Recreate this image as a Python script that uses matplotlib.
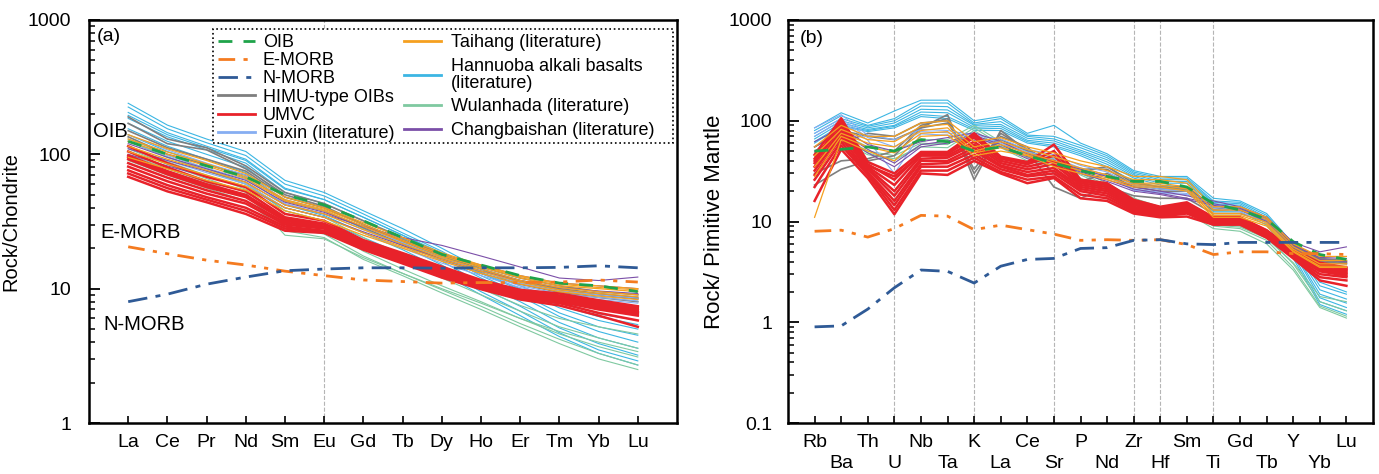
import matplotlib
matplotlib.use('Agg')
import matplotlib.pyplot as plt
from matplotlib.patches import Rectangle
from matplotlib.lines import Line2D
from matplotlib.ticker import LogLocator, NullFormatter, FuncFormatter

plt.rcParams['font.family'] = ['Liberation Sans', 'DejaVu Sans']

# ---------------- data: (a) chondrite-normalised REE ----------------
ree = ['La', 'Ce', 'Pr', 'Nd', 'Sm', 'Eu', 'Gd', 'Tb', 'Dy', 'Ho', 'Er', 'Tm', 'Yb', 'Lu']

oib_a = [125, 100, 82, 68, 50, 42, 32, 24, 18, 15, 12.5, 11, 10.5, 9.5]
emorb_a = [20.5, 18.2, 16.3, 15, 13.5, 12.5, 11.6, 11.3, 11, 11.1, 11.1, 11.2, 11.6, 11.2]
nmorb_a = [8, 9.1, 10.8, 12.2, 13.6, 14, 14.3, 14.3, 14.2, 14.3, 14.3, 14.4, 14.8, 14.3]

umvc_a = [
    [115, 86, 68, 57, 36, 32, 23, 18.4, 14.6, 11.6, 9.8, 9.2, 8.2, 7.4],
    [105, 80, 63, 53, 34, 30.5, 22.5, 17.8, 14.2, 11.4, 9.6, 8.9, 8.0, 7.3],
    [98, 75, 60, 50, 33, 30, 22, 17.4, 13.8, 11.1, 9.4, 8.7, 7.8, 7.1],
    [92, 71, 57, 48, 32, 29, 21.5, 17, 13.5, 10.9, 9.2, 8.5, 7.6, 6.9],
    [86, 67, 54, 45, 31, 28.5, 21, 16.6, 13.2, 10.7, 9.0, 8.3, 7.4, 6.7],
    [81, 63, 51, 43, 30, 28, 20.5, 16.3, 13, 10.5, 8.8, 8.1, 7.2, 6.5],
    [76, 59, 48, 40, 29, 27, 20, 16, 12.7, 10.3, 8.7, 8.0, 7.0, 6.3],
    [72, 56, 46, 38, 28, 26.5, 19.8, 15.7, 12.4, 10.1, 8.5, 7.8, 6.6, 5.8],
    [68, 53, 44, 36, 27, 26, 19.5, 15.4, 12.1, 9.9, 8.3, 7.5, 6.3, 5.2],
    [95, 73, 58, 49, 33, 30, 22, 17.2, 13.7, 11.0, 9.3, 8.4, 7.3, 6.6],
]
hannuoba_a = [
    [240, 165, 130, 105, 64, 52, 38, 28, 20, 14, 10.5, 8, 6.5, 5.8],
    [225, 155, 122, 98, 60, 49, 36, 26, 19, 13, 9.8, 7.2, 5.8, 5.0],
    [205, 145, 115, 92, 56, 46, 34, 25, 18, 12.5, 9.2, 6.6, 5.2, 4.5],
    [185, 135, 108, 86, 52, 43, 32, 23.5, 17, 12, 8.8, 6.2, 4.8, 4.0],
    [170, 125, 100, 80, 48, 40, 30, 22, 16, 11, 8, 5.6, 4.3, 3.6],
    [155, 115, 92, 73, 45, 38, 28, 21, 15, 10.2, 7.4, 5.1, 3.9, 3.2],
    [140, 105, 85, 67, 42, 35, 26, 19.5, 14, 9.5, 6.8, 4.7, 3.5, 2.9],
    [125, 95, 76, 60, 38, 32, 24, 18, 13, 9, 6.3, 4.4, 3.3, 2.7],
    [195, 140, 112, 90, 55, 46, 34, 25, 18.5, 13.2, 10, 7.5, 6.2, 5.4],
]
wulanhada_a = [
    [130, 100, 78, 62, 38, 32, 22, 16, 12, 9, 6.8, 5.2, 4.3, 3.6],
    [115, 88, 70, 55, 33, 28, 19, 14, 10.5, 8, 6, 4.6, 3.7, 3.1],
    [100, 78, 62, 49, 29, 25.5, 17.5, 13, 9.8, 7.4, 5.5, 4.2, 3.3, 2.7],
    [90, 70, 56, 45, 27, 24, 16.5, 12.5, 9.3, 7, 5.2, 3.9, 3.0, 2.5],
    [110, 84, 66, 52, 25, 23.5, 17, 13, 10, 7.8, 6, 4.8, 4.0, 3.4],
    [125, 96, 75, 60, 40, 34, 24, 17, 13, 10, 7.5, 6, 5.2, 4.6],
]
himu_a = [
    [190, 130, 112, 82, 52, 43, 32, 24, 18, 14.5, 12, 10.5, 9.5, 9],
    [170, 120, 108, 78, 50, 41, 30, 23, 17.5, 14, 11.5, 10, 9.2, 8.6],
    [150, 112, 92, 75, 48, 40, 30, 22.5, 17, 13.5, 11.2, 9.8, 9, 8.4],
    [135, 100, 84, 70, 45, 38, 28.5, 21.5, 16.5, 13, 10.8, 9.4, 8.6, 8.0],
]
taihang_a = [
    [140, 110, 90, 72, 48, 40, 31, 24, 18.5, 15, 12.5, 11, 10.5, 10],
    [125, 100, 82, 66, 45, 38, 29, 22.5, 17.5, 14.5, 12, 10.5, 10, 9.5],
    [115, 92, 76, 62, 42, 36, 27.5, 21.5, 17, 14, 11.5, 10.2, 9.5, 9],
    [105, 85, 70, 58, 40, 34, 26, 20.5, 16.5, 13.5, 11.2, 9.8, 9.2, 8.7],
    [95, 78, 64, 54, 38, 32, 25, 20, 16, 13, 10.8, 9.5, 8.8, 8.3],
    [130, 104, 85, 68, 46, 39, 30, 23, 18, 14.8, 12.3, 10.8, 10.2, 9.8],
]
fuxin_a = [
    [140, 108, 86, 70, 46, 38, 29, 22, 17, 13.5, 11, 9.6, 9, 8.5],
    [125, 98, 79, 65, 43, 36, 27.5, 21, 16.2, 13, 10.5, 9.2, 8.6, 8.1],
    [112, 90, 73, 60, 40, 34, 26, 20, 15.5, 12.5, 10.2, 8.9, 8.3, 7.8],
]
changbai_a = [
    [110, 90, 75, 62, 42, 36, 29, 24, 21, 17.5, 14.5, 12, 11.5, 12.2],
    [120, 95, 78, 64, 44, 37, 29, 23, 18, 15, 12.5, 11, 10.5, 10],
    [100, 82, 68, 57, 40, 34, 26.5, 21, 16.5, 13.5, 11.5, 10.2, 9.6, 9.2],
]

# ---------------- data: (b) primitive-mantle-normalised ----------------
spider = ['Rb', 'Ba', 'Th', 'U', 'Nb', 'Ta', 'K', 'La', 'Ce', 'Sr', 'P',
          'Nd', 'Zr', 'Hf', 'Sm', 'Ti', 'Gd', 'Tb', 'Y', 'Yb', 'Lu']

oib_b = [50, 52, 55, 50, 65, 62, 50, 55, 45, 38, 32, 28, 25, 25, 22, 15, 13, 10.5, 6.3, 4.7, 4.2]
emorb_b = [8, 8.2, 7, 8.5, 11.5, 11.3, 8.3, 9.2, 8.3, 7.5, 6.5, 6.6, 6.5, 6.6, 5.9, 4.7, 5.0, 5.0, 4.8, 4.8, 4.7]
nmorb_b = [0.9, 0.92, 1.35, 2.2, 3.3, 3.2, 2.45, 3.6, 4.2, 4.3, 5.4, 5.5, 6.5, 6.6, 6.0, 5.9, 6.2, 6.2, 6.2, 6.2, 6.2]

umvc_b = [
    [46, 106, 39, 30, 49, 49, 75, 44, 39, 58, 26, 24, 16.4, 14, 15.5, 11, 11, 8.2, 5.2, 3.9, 3.5],
    [42, 95, 37, 26, 47, 47, 68, 42, 37, 45, 25, 23, 15.8, 13.5, 15, 10.7, 10.8, 8.0, 5.0, 3.7, 3.3],
    [38, 88, 35, 23, 45, 45, 62, 40, 35, 40, 24, 22, 15.2, 13, 14.5, 10.4, 10.6, 7.8, 4.9, 3.5, 3.2],
    [35, 80, 34, 20, 42, 43, 58, 38, 33, 37, 23, 21, 14.6, 12.6, 14, 10.2, 10.4, 7.6, 4.8, 3.4, 3.1],
    [32, 74, 33, 18, 40, 40, 54, 36, 31, 34, 22, 20, 14, 12.2, 13.5, 10, 10.2, 7.4, 4.7, 3.3, 3.0],
    [29, 68, 31, 16, 37, 38, 50, 35, 29, 32, 21, 19, 13.5, 11.8, 13, 9.8, 10, 7.3, 4.6, 3.2, 2.9],
    [26, 62, 30, 14.5, 35, 35, 46, 33, 28, 30, 20, 18, 13, 11.5, 12.5, 9.6, 9.8, 7.2, 4.5, 3.0, 2.8],
    [22, 57, 29, 13, 32, 32, 43, 31, 26, 28, 18.5, 17, 12.5, 11.2, 12, 9.4, 9.6, 7.0, 4.4, 2.8, 2.6],
    [16, 52, 27, 11.8, 30, 29, 40, 30, 24, 27, 17, 16, 12, 11, 11.2, 9.3, 9.3, 6.9, 4.3, 2.6, 2.3],
    [40, 100, 36, 28, 46, 48, 72, 43, 38, 50, 25.5, 23.5, 16, 13.8, 15.2, 10.9, 10.9, 8.1, 5.1, 3.8, 3.4],
]
hannuoba_b = [
    [85, 120, 95, 125, 160, 160, 100, 110, 75, 90, 60, 47, 32, 28, 28, 17, 16, 12, 6, 2.5, 2.0],
    [80, 112, 90, 105, 150, 150, 95, 105, 72, 70, 57, 45, 31, 27, 27, 16, 15.5, 11.5, 5.8, 2.3, 1.9],
    [75, 105, 88, 100, 140, 138, 92, 98, 70, 66, 54, 43, 30, 26, 26, 15.5, 15, 11, 5.5, 2.1, 1.7],
    [70, 100, 85, 95, 130, 128, 90, 92, 67, 63, 51, 41, 29, 25, 25, 15, 14.5, 10.5, 5.2, 1.9, 1.55],
    [66, 95, 82, 90, 122, 120, 86, 88, 64, 60, 49, 39, 28, 24, 24, 14.5, 14, 10, 5.0, 1.75, 1.4],
    [62, 90, 80, 88, 115, 110, 83, 84, 62, 57, 47, 37, 27, 23, 22, 13.5, 13.5, 9.6, 4.6, 1.6, 1.3],
    [60, 88, 78, 85, 110, 105, 80, 80, 60, 55, 45, 35, 25, 22, 21, 12.5, 12.5, 9.2, 4.3, 1.5, 1.2],
]
wulanhada_b = [
    [55, 75, 55, 50, 65, 65, 90, 62, 46, 42, 32, 24, 17, 14, 14, 9.5, 9, 7, 3.8, 1.6, 1.3],
    [48, 70, 50, 45, 60, 58, 85, 58, 43, 39, 29, 22, 16, 13, 13, 9, 8.5, 6.5, 3.5, 1.45, 1.15],
    [42, 62, 46, 42, 55, 54, 80, 54, 40, 36, 27, 20, 15, 12.2, 12.2, 8.5, 8, 6, 3.3, 1.4, 1.1],
    [50, 66, 48, 40, 58, 60, 70, 56, 44, 40, 30, 23, 17, 13.5, 13.5, 9.2, 8.8, 6.8, 3.9, 1.8, 1.6],
]
himu_b = [
    [23, 33, 40, 45, 85, 115, 26, 80, 50, 22, 17, 22, 18, 17, 17, 12, 12, 10, 5.5, 4.0, 3.8],
    [30, 40, 42, 50, 90, 105, 30, 70, 55, 30, 25, 30, 22, 20, 20, 13, 13, 10.5, 5.8, 4.2, 4.0],
    [45, 60, 75, 70, 95, 100, 33, 75, 52, 38, 32, 35, 24, 22, 22, 14, 13.5, 11, 6, 4.3, 4.1],
    [55, 80, 70, 65, 85, 95, 40, 65, 50, 40, 33, 33, 23, 21, 21, 13.5, 13, 10.5, 5.8, 4.1, 3.9],
]
taihang_b = [
    [11, 65, 50, 40, 70, 72, 45, 50, 45, 35, 30, 26, 22, 22, 20, 11, 11, 9, 5, 3.5, 3.5],
    [35, 75, 60, 55, 80, 85, 50, 58, 48, 40, 34, 29, 24, 24, 22, 12, 12, 9.8, 5.3, 3.8, 3.8],
    [45, 82, 65, 62, 88, 92, 55, 62, 52, 44, 37, 32, 26, 26, 24, 13, 13, 10.5, 5.6, 4.1, 4.1],
    [55, 90, 70, 70, 95, 100, 62, 68, 55, 48, 40, 35, 28, 28, 26, 14, 14, 11, 6, 4.5, 4.5],
    [28, 70, 55, 48, 75, 78, 48, 54, 46, 38, 32, 27, 23, 23, 21, 11.5, 11.5, 9.4, 5.1, 3.6, 3.6],
]
fuxin_b = [
    [85, 115, 72, 65, 82, 80, 72, 66, 52, 46, 36, 31, 23, 21, 20, 14.5, 13.5, 10.5, 5.2, 3.6, 3.3],
    [75, 105, 68, 55, 78, 76, 68, 62, 49, 43, 34, 29, 21, 19.5, 19, 14, 13, 10, 5.0, 3.4, 3.1],
    [70, 100, 64, 30, 74, 72, 64, 60, 47, 41, 33, 28, 20.5, 19, 18.5, 13.5, 12.5, 9.7, 4.8, 3.3, 3.0],
]
changbai_b = [
    [62, 85, 58, 50, 62, 68, 76, 62, 47, 40, 33, 28, 22, 20, 18, 16, 14, 11, 6.2, 5.0, 5.6],
    [55, 78, 52, 38, 58, 63, 72, 58, 44, 38, 31, 26, 21, 19, 17, 15, 13.5, 10.5, 5.8, 4.4, 4.3],
    [50, 72, 48, 35, 55, 60, 70, 55, 42, 36, 30, 25, 20, 18.5, 16.5, 14.5, 13, 10, 5.5, 4.2, 4.0],
]

# colours
c_oib = '#1fa34a'
c_emorb = '#f47b20'
c_nmorb = '#2f5a96'
c_himu = '#7f7f7f'
c_umvc = '#e8222a'
c_fuxin = '#86aef2'
c_taihang = '#f5a020'
c_hannuoba = '#3cb6e3'
c_wulan = '#7fc9a0'
c_changbai = '#7b4fa8'

d_oib = (5, 4)
d_emorb = (6, 3, 1.5, 3, 1.5, 3)
d_nmorb = (7, 3, 1.8, 3)


def draw_group(ax, rows, color, lw, z):
    for r in rows:
        ax.plot(range(len(r)), r, color=color, lw=lw, zorder=z, solid_joinstyle='round')


def draw_all(ax, g):
    draw_group(ax, g['hannuoba'], c_hannuoba, 0.8, 2.0)
    draw_group(ax, g['wulan'], c_wulan, 0.8, 2.1)
    draw_group(ax, g['himu'], c_himu, 1.2, 2.2)
    draw_group(ax, g['fuxin'], c_fuxin, 0.8, 2.3)
    draw_group(ax, g['changbai'], c_changbai, 0.8, 2.4)
    draw_group(ax, g['umvc'], c_umvc, 1.8, 2.5)
    draw_group(ax, g['taihang'], c_taihang, 0.9, 2.6)
    x = range(len(g['oib']))
    ax.plot(x, g['oib'], color=c_oib, lw=2, dashes=d_oib, zorder=3)
    ax.plot(x, g['emorb'], color=c_emorb, lw=2, dashes=d_emorb, zorder=3)
    ax.plot(x, g['nmorb'], color=c_nmorb, lw=2, dashes=d_nmorb, zorder=3)


def style_axes(ax, labels, ymin, ylabel, ypad, ylsize):
    ax.set_yscale('log')
    ax.set_ylim(ymin, 1000)
    ax.set_xlim(-1, len(labels))
    ax.set_xticks(range(len(labels)))
    ax.yaxis.set_major_locator(LogLocator(base=10, numticks=10))
    ax.yaxis.set_minor_locator(LogLocator(base=10, subs=range(2, 10), numticks=10))
    ax.yaxis.set_minor_formatter(NullFormatter())
    ax.yaxis.set_major_formatter(FuncFormatter(lambda v, p: '%g' % v))
    ax.tick_params(axis='y', which='major', direction='in', length=8, width=1.3,
                   labelsize=14, pad=ypad)
    ax.tick_params(axis='y', which='minor', direction='in', length=4, width=1.1)
    ax.tick_params(axis='x', direction='in', length=5, width=1.2, labelsize=14, pad=8)
    for s in ax.spines.values():
        s.set_linewidth(1.8)
    ax.set_ylabel(ylabel, fontsize=ylsize)


fig = plt.figure(figsize=(13.79, 4.74), dpi=100)
ax1 = fig.add_axes([89 / 1379, 51 / 474, 588 / 1379, 403 / 474])
ax2 = fig.add_axes([788 / 1379, 51 / 474, 585 / 1379, 403 / 474])

# ---- panel (a)
draw_all(ax1, dict(hannuoba=hannuoba_a, wulan=wulanhada_a, himu=himu_a, fuxin=fuxin_a,
                   changbai=changbai_a, umvc=umvc_a, taihang=taihang_a,
                   oib=oib_a, emorb=emorb_a, nmorb=nmorb_a))
style_axes(ax1, ree, 1, 'Rock/Chondrite', 13, 14.5)
ax1.set_xticklabels(ree)
ax1.axvline(ree.index('Eu'), color='#b5b5b5', lw=0.8, ls='--', zorder=1)
ax1.yaxis.set_label_coords(-0.117, 0.5)
ax1.text(0.014, 0.958, '(a)', transform=ax1.transAxes, fontsize=14, va='center')
ax1.text(-0.9, 148, 'OIB', fontsize=14.5, va='center')
ax1.text(-0.7, 26, 'E-MORB', fontsize=14.5, va='center')
ax1.text(-0.64, 5.4, 'N-MORB', fontsize=14.5, va='center')

# legend box
ax1.add_patch(Rectangle((0.2104, 0.694), 0.7823, 0.283, transform=ax1.transAxes,
                        facecolor='white', edgecolor='black', ls=':', lw=1.2, zorder=6))
h1 = [Line2D([], [], color=c_oib, lw=2, dashes=d_oib),
      Line2D([], [], color=c_emorb, lw=2, dashes=d_emorb),
      Line2D([], [], color=c_nmorb, lw=2, dashes=d_nmorb),
      Line2D([], [], color=c_himu, lw=2),
      Line2D([], [], color=c_umvc, lw=2),
      Line2D([], [], color=c_fuxin, lw=2)]
l1 = ['OIB', 'E-MORB', 'N-MORB', 'HIMU-type OIBs', 'UMVC', 'Fuxin (literature)']
h2 = [Line2D([], [], color=c_taihang, lw=2),
      Line2D([], [], color=c_hannuoba, lw=2),
      Line2D([], [], color=c_wulan, lw=2),
      Line2D([], [], color=c_changbai, lw=2)]
l2 = ['Taihang (literature)', 'Hannuoba alkali basalts\n(literature)',
      'Wulanhada (literature)', 'Changbaishan (literature)']
leg1 = ax1.legend(h1, l1, loc='upper left', bbox_to_anchor=(0.219, 0.9655), frameon=False,
                  fontsize=13, handlelength=2.05, handletextpad=0.45, labelspacing=0.07,
                  borderpad=0, borderaxespad=0)
leg1.set_zorder(7)
ax1.add_artist(leg1)
leg2 = ax1.legend(h2, l2, loc='upper left', bbox_to_anchor=(0.536, 0.9655), frameon=False,
                  fontsize=13, handlelength=2.05, handletextpad=0.55, labelspacing=0.376,
                  borderpad=0, borderaxespad=0)
for t in leg2.get_texts():
    t.set_linespacing(1.0)
leg2.set_zorder(7)

# ---- panel (b)
draw_all(ax2, dict(hannuoba=hannuoba_b, wulan=wulanhada_b, himu=himu_b, fuxin=fuxin_b,
                   changbai=changbai_b, umvc=umvc_b, taihang=taihang_b,
                   oib=oib_b, emorb=emorb_b, nmorb=nmorb_b))
style_axes(ax2, spider, 0.1, 'Rock/ Pimitive Mantle', 11.5, 16)
ax2.set_xticklabels([s if i % 2 == 0 else '\n' + s for i, s in enumerate(spider)],
                    linespacing=1.3)
for el in ['U', 'K', 'Sr', 'Zr', 'Hf', 'Ti']:
    ax2.axvline(spider.index(el), color='#b5b5b5', lw=0.8, ls='--', zorder=1)
ax2.yaxis.set_label_coords(-0.1085, 0.5)
ax2.text(0.02, 0.955, '(b)', transform=ax2.transAxes, fontsize=14, va='center')

fig.savefig('out.png', dpi=100)
